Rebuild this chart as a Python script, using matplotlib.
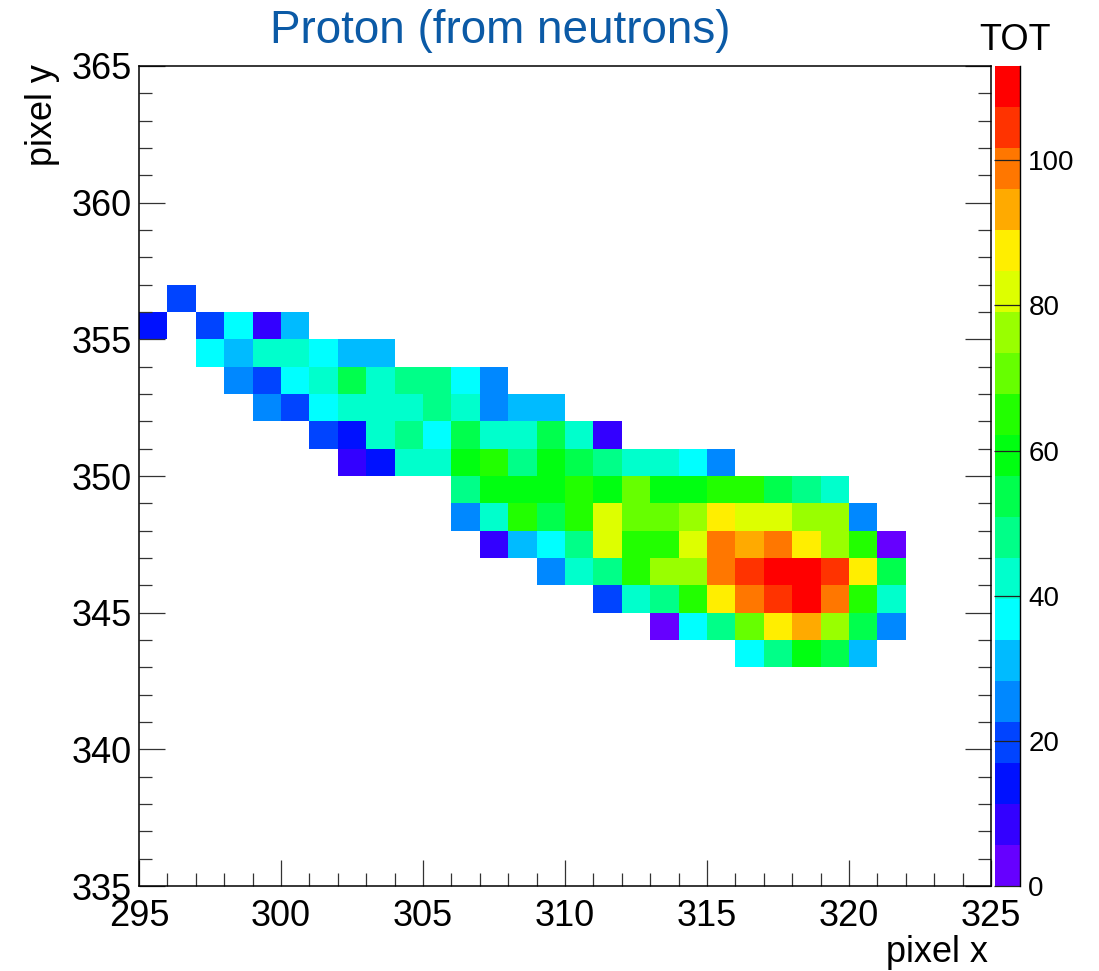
"""Cluster map of a proton track (TOT per pixel) drawn as a ROOT-style COLZ plot."""
import numpy as np
import matplotlib
matplotlib.use('Agg')
import matplotlib.pyplot as plt
from matplotlib.colors import ListedColormap, BoundaryNorm
from matplotlib.ticker import MultipleLocator

plt.rcParams['font.family'] = ['Liberation Sans', 'DejaVu Sans']

#  Data: one row of hits per pixel-y, starting at row_x0 
row_y = [356, 355, 354, 353, 352, 351, 350, 349, 348, 347, 346, 345, 344, 343]
row_x0 = [296, 295, 297, 298, 299, 301, 302, 306, 306, 307, 309, 311, 313, 316]
row_tot = [
    [20],
    [14, 0, 20, 37, 8, 31],
    [37, 31, 42, 42, 37, 31, 31],
    [25, 20, 37, 42, 53, 42, 48, 48, 37, 25],
    [25, 20, 37, 42, 42, 42, 48, 42, 25, 31, 31],
    [20, 14, 42, 48, 37, 53, 42, 42, 53, 42, 8],
    [8, 14, 42, 42, 59, 65, 48, 59, 53, 48, 42, 42, 37, 25],
    [48, 59, 59, 59, 65, 59, 70, 59, 59, 65, 65, 53, 48, 42],
    [25, 42, 65, 53, 65, 81, 70, 70, 76, 87, 81, 81, 76, 76, 25],
    [8, 31, 37, 48, 81, 65, 65, 81, 98, 93, 98, 87, 76, 65, 3],
    [25, 42, 48, 65, 76, 76, 98, 104, 113, 110, 104, 87, 53],
    [20, 42, 48, 65, 87, 98, 104, 110, 98, 65, 42],
    [3, 37, 48, 70, 87, 93, 76, 53, 25],
    [37, 48, 59, 53, 31],
]

X_RANGE = (295, 325)
Y_RANGE = (335, 365)
ZMAX = 113
N_CONTOURS = 20

# ROOT "pretty palette" sampled at 20 contour levels
palette = ['#6600FF', '#3300FF', '#0011FF', '#0044FF', '#0088FF',
           '#00BBFF', '#00FFFF', '#00FFCC', '#00FF88', '#00FF4D',
           '#00FF11', '#22FF00', '#66FF00', '#99FF00', '#DDFF00',
           '#FFEE00', '#FFAA00', '#FF7700', '#FF3300', '#FF0000']

#  Fill histogram 
nx = X_RANGE[1] - X_RANGE[0]
ny = Y_RANGE[1] - Y_RANGE[0]
hist = np.zeros((ny, nx))
for y, x0, vals in zip(row_y, row_x0, row_tot):
    for i, v in enumerate(vals):
        hist[y - Y_RANGE[0], x0 - X_RANGE[0] + i] = v
hist = np.ma.masked_equal(hist, 0)

xedges = np.arange(X_RANGE[0], X_RANGE[1] + 1)
yedges = np.arange(Y_RANGE[0], Y_RANGE[1] + 1)

cmap = ListedColormap(palette)
levels = np.linspace(0, ZMAX, N_CONTOURS + 1)
norm = BoundaryNorm(levels, cmap.N)

#  Plot 
W, H = 1099, 971
fig = plt.figure(figsize=(W / 100, H / 100), dpi=100)
ax = fig.add_axes([139 / W, 1 - 886 / H, (991 - 139) / W, (886 - 66) / H])
cax = fig.add_axes([995 / W, 1 - 886 / H, (1020 - 995) / W, (886 - 66) / H])

mesh = ax.pcolormesh(xedges, yedges, hist, cmap=cmap, norm=norm,
                     edgecolors='none', antialiased=False)

ax.set_xlim(*X_RANGE)
ax.set_ylim(*Y_RANGE)
ax.xaxis.set_major_locator(MultipleLocator(5))
ax.xaxis.set_minor_locator(MultipleLocator(1))
ax.yaxis.set_major_locator(MultipleLocator(5))
ax.yaxis.set_minor_locator(MultipleLocator(1))
ax.tick_params(which='both', direction='in', left=True, right=True,
               bottom=True, top=False, color='#333333', width=0.9,
               labelsize=26, labelcolor='black')
ax.tick_params(which='major', length=18.5)
ax.tick_params(which='minor', length=9.5)
ax.tick_params(axis='x', pad=9)
ax.tick_params(axis='y', pad=5)
for sp in ax.spines.values():
    sp.set_linewidth(1.1)
    sp.set_color('black')

fig.text(500 / W, 1 - 43 / H, 'Proton (from neutrons)', fontsize=33,
         color='#0B5AA6', ha='center', va='baseline')
fig.text(988 / W, 1 - 962 / H, 'pixel x', fontsize=26, ha='right',
         va='baseline')
fig.text(42 / W, 1 - 64 / H, 'pixel y', fontsize=26, rotation=90,
         ha='center', va='top')

#  Color scale 
cb = fig.colorbar(mesh, cax=cax, ticks=[0, 20, 40, 60, 80, 100])
cb.outline.set_visible(False)
cax.plot([1, 1], [0, 1], transform=cax.transAxes, color='black', lw=1.0,
         clip_on=False)
cax.tick_params(direction='in', length=19, width=0.9, color='#222222',
                labelsize=20, pad=6)
cax.minorticks_off()
fig.text(1015 / W, 1 - 50 / H, 'TOT', fontsize=26, ha='center',
         va='baseline')

fig.savefig('out.png', dpi=100)
plt.close(fig)
